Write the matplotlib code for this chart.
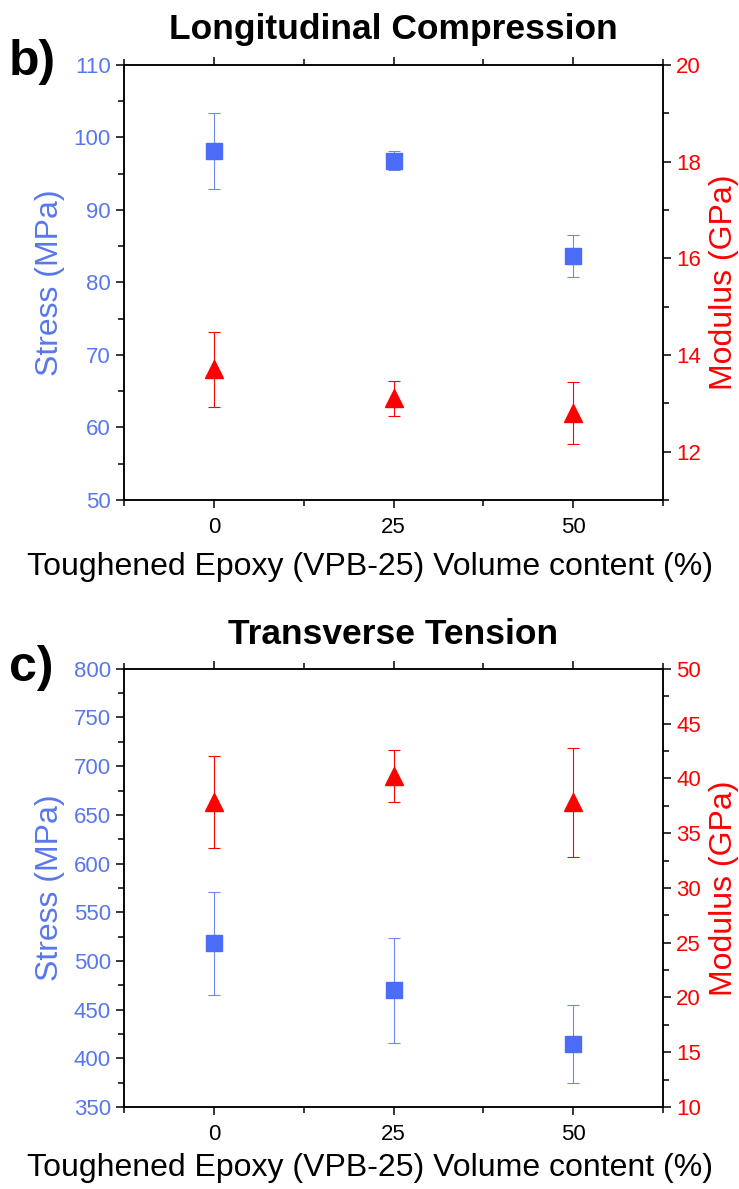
import numpy as np
import matplotlib.pyplot as plt
from matplotlib.ticker import MultipleLocator

plt.rcParams['font.family'] = ['Liberation Sans', 'DejaVu Sans']

# x positions: toughened epoxy volume content (%)
content = [0, 25, 50]

# b) Longitudinal compression
lc_stress = [98.1, 96.8, 83.7]
lc_stress_err = [5.2, 1.3, 2.9]
lc_modulus = [13.7, 13.1, 12.8]
lc_modulus_err = [0.77, 0.36, 0.65]

# c) Transverse tension
tt_stress = [518, 470, 415]
tt_stress_err = [53, 54, 40]
tt_modulus = [37.8, 40.2, 37.8]
tt_modulus_err = [4.2, 2.4, 5.0]

BLUE = '#4A6CF7'
BLUE_TXT = '#5877EC'
RED = '#FF0000'

fig = plt.figure(figsize=(7.39, 11.89), dpi=100)


def panel(rect, stress, stress_err, modulus, modulus_err,
          s_lim, s_major, s_minor, m_lim, m_major, m_minor, xlab_y):
    ax = fig.add_axes(rect)
    ax2 = ax.twinx()
    ax.errorbar(content, stress, yerr=stress_err, fmt='s', color=BLUE,
                ecolor='#6F89F2', elinewidth=0.8, capsize=4, capthick=0.8,
                markersize=11, zorder=3)
    ax2.errorbar(content, modulus, yerr=modulus_err, fmt='^', color=RED,
                 ecolor=RED, elinewidth=0.8, capsize=4, capthick=0.8,
                 markersize=13, zorder=3)
    ax.set_xlim(-12.5, 62.5)
    ax.set_ylim(*s_lim)
    ax2.set_ylim(*m_lim)
    ax.xaxis.set_major_locator(MultipleLocator(25))
    ax.xaxis.set_minor_locator(MultipleLocator(12.5))
    ax.yaxis.set_major_locator(MultipleLocator(s_major))
    ax.yaxis.set_minor_locator(MultipleLocator(s_minor))
    ax2.yaxis.set_major_locator(MultipleLocator(m_major))
    ax2.yaxis.set_minor_locator(MultipleLocator(m_minor))

    for a in (ax, ax2):
        for sp in a.spines.values():
            sp.set_linewidth(1.1)
    ax.tick_params(axis='x', which='both', top=True, direction='out',
                   labelsize=16, width=1.1, pad=6)
    ax.tick_params(axis='x', which='major', length=6)
    ax.tick_params(axis='x', which='minor', length=4)
    ax.tick_params(axis='y', which='both', direction='out', labelsize=16,
                   labelcolor=BLUE_TXT, width=1.1)
    ax.tick_params(axis='y', which='major', length=6)
    ax.tick_params(axis='y', which='minor', length=4)
    ax2.tick_params(axis='y', which='both', direction='out', labelsize=16,
                    labelcolor=RED, width=1.1)
    ax2.tick_params(axis='y', which='major', length=6)
    ax2.tick_params(axis='y', which='minor', length=4)

    ax.set_xlabel('Toughened Epoxy (VPB-25) Volume content (%)', fontsize=23,
                  va='center')
    ax.xaxis.set_label_coords(0.456, xlab_y)
    ax.set_ylabel('Stress (MPa)', fontsize=23, color=BLUE_TXT, labelpad=6)
    ax2.set_ylabel('Modulus (GPa)', fontsize=23, color=RED, labelpad=6)
    return ax, ax2


panel([0.168, 0.5795, 0.729, 0.366], lc_stress, lc_stress_err,
      lc_modulus, lc_modulus_err, (50, 110), 10, 5, (11, 20), 2, 1, -0.153)
panel([0.168, 0.069, 0.729, 0.3685], tt_stress, tt_stress_err,
      tt_modulus, tt_modulus_err, (350, 800), 50, 25, (10, 50), 5, 2.5, -0.14)

fig.text(0.532, 1 - 29 / 1189, 'Longitudinal Compression', fontsize=25.5,
         fontweight='bold', ha='center', va='center')
fig.text(0.532, 1 - 634 / 1189, 'Transverse Tension', fontsize=25.5,
         fontweight='bold', ha='center', va='center')
fig.text(0.012, 1 - 62 / 1189, 'b)', fontsize=36, fontweight='bold',
         ha='left', va='center')
fig.text(0.012, 1 - 668 / 1189, 'c)', fontsize=36, fontweight='bold',
         ha='left', va='center')

fig.savefig('out.png', dpi=100)
